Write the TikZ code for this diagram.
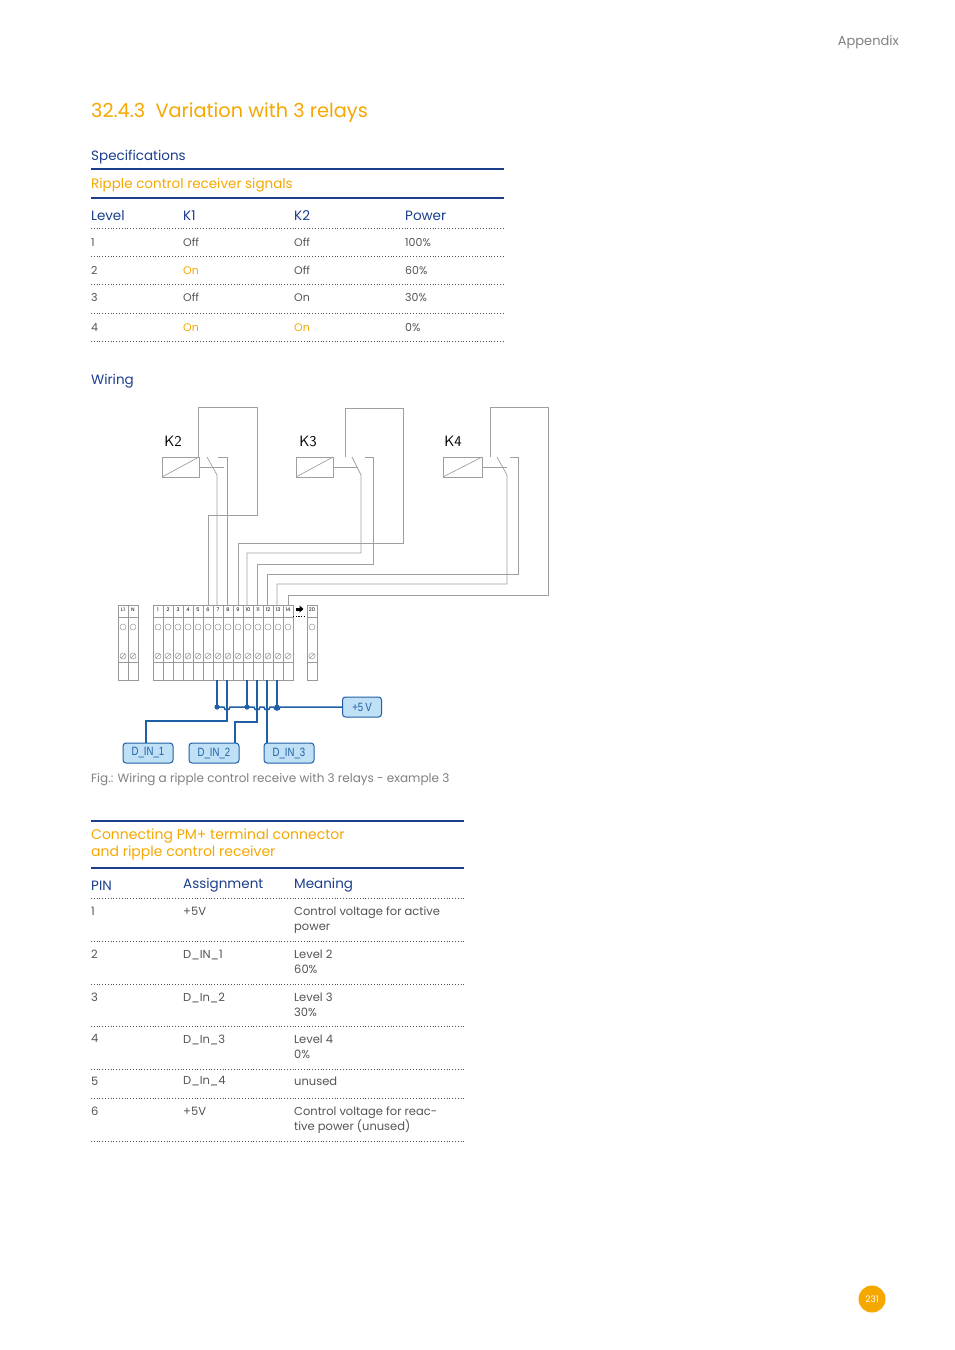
\documentclass[tikz,border=0pt]{standalone}
\usepackage{fontspec}
\setmainfont{Poppins}
\newfontfamily\boxfont{Liberation Sans}[FakeStretch=0.8]
\definecolor{dblue}{HTML}{1B3E8C}
\definecolor{orng}{HTML}{F5A800}
\definecolor{wblue}{HTML}{1F5FA6}
\definecolor{bfill}{HTML}{BFE0F5}
\definecolor{gtxt}{HTML}{555555}
\begin{document}
\begin{tikzpicture}[x=1pt,y=-1pt,
  txt/.style={anchor=west,inner sep=0pt,yshift=-1.5pt,font=\fontsize{11}{13}\selectfont,text=gtxt},
  otxt/.style={txt,text=orng},
  hdr/.style={anchor=west,inner sep=0pt,yshift=-1.5pt,font=\fontsize{13.5}{15}\selectfont,text=dblue},
  ohdr/.style={anchor=west,inner sep=0pt,font=\fontsize{14}{17}\selectfont,text=orng,align=left},
  thick line/.style={draw=dblue,line width=2.2pt},
  dotline/.style={draw=gtxt,line width=0.8pt,dash pattern=on 0.8pt off 2pt},
  wire/.style={draw=gray!75,line width=0.7pt},
  bw/.style={draw=wblue,line width=1.5pt},
  sig/.style={draw=wblue,fill=bfill,rounded corners=3pt,line width=1pt,minimum height=20pt,minimum width=50pt,inner sep=2pt,font=\boxfont\fontsize{12}{12}\selectfont,text=wblue},
  term/.style={draw=gray!80,line width=0.5pt},
  klab/.style={anchor=center,inner sep=0pt,font=\fontsize{15}{16}\selectfont\sffamily},
  tn/.style={font=\fontsize{5}{6}\selectfont,inner sep=0pt,text=black}]
\useasboundingbox (0,0) rectangle (954,1350);
\fill[white] (0,0) rectangle (954,1350);
\node[anchor=east,inner sep=0pt,yshift=-1.5pt,font=\fontsize{13}{15}\selectfont,text=gray] (app) at (899,41) {Appendix};
\node[anchor=west,inner sep=0pt,yshift=-1.5pt,font=\fontsize{19.3}{21}\selectfont,text=orng] (ttl) at (91,111) {32.4.3\ \ Variation with 3 relays};
\node[hdr] (spec) at (91,156) {Specifications};
\draw[thick line] (91,169) -- (504,169);
\node[otxt,font=\fontsize{13.5}{15}\selectfont] (rcs) at (91,184) {Ripple control receiver signals};
\draw[thick line] (91,198) -- (504,198);
\node[hdr] (h1) at (91,214) {Level};
\node[hdr] (h2) at (183,214) {K1};
\node[hdr] (h3) at (294,214) {K2};
\node[hdr] (h4) at (405,214) {Power};
\foreach \y in {228,256,284,313,341} \draw[dotline] (91,\y) -- (504,\y);
\node[txt] (r1a) at (91,241) {1}; \node[txt] (r1b) at (183,241) {Off}; \node[txt] (r1c) at (294,241) {Off}; \node[txt] (r1d) at (405,241) {100\%};
\node[txt] (r2a) at (91,269) {2}; \node[otxt] (r2b) at (183,269) {On}; \node[txt] (r2c) at (294,269) {Off}; \node[txt] (r2d) at (405,269) {60\%};
\node[txt] (r3a) at (91,296) {3}; \node[txt] (r3b) at (183,296) {Off}; \node[txt] (r3c) at (294,296) {On}; \node[txt] (r3d) at (405,296) {30\%};
\node[txt] (r4a) at (91,326) {4}; \node[otxt] (r4b) at (183,326) {On}; \node[otxt] (r4c) at (294,326) {On}; \node[txt] (r4d) at (405,326) {0\%};
\node[hdr] (wir) at (91,380) {Wiring};
% relays
\node[klab] (k2) at (173,441) {K2};
\node[klab] (k3) at (308,441) {K3};
\node[klab] (k4) at (453,441) {K4};
\foreach \a/\b in {162/199,296/333,443/482}{
  \draw[wire] (\a,457) rectangle (\b,477);
  \draw[wire] (\a,477) -- (\b,457);}
% K2
\draw[wire] (208,605) -- (208,515) -- (257,515) -- (257,407) -- (198,407) -- (198,457);
\draw[wire] (207,457) -- (217,475) -- (217,605);
\draw[wire] (199,467) -- (224,467);
\draw[wire] (218,457) -- (227,457) -- (227,605);
% K3
\draw[wire] (238,605) -- (238,543) -- (403,543) -- (403,408) -- (345,408) -- (345,457);
\draw[wire] (352,457) -- (361,475) -- (361,553) -- (247,553) -- (247,605);
\draw[wire] (333,467) -- (358,467);
\draw[wire] (365,457) -- (373,457) -- (373,564) -- (257,564) -- (257,605);
% K4
\draw[wire] (288,605) -- (288,595) -- (548,595) -- (548,407) -- (490,407) -- (490,457);
\draw[wire] (497,457) -- (507,475) -- (507,584) -- (277,584) -- (277,605);
\draw[wire] (482,467) -- (507,467);
\draw[wire] (510,457) -- (518,457) -- (518,574) -- (267,574) -- (267,605);
% terminal blocks
\foreach \x/\l in {118/L1,128/N}{
  \draw[term] (\x,605) rectangle ++(10,75);
  \node[tn] at (\x+5,610) {\l};
  \draw[term] (\x+5,627) circle (3);
  \draw[term] (\x+5,656) circle (3); \draw[term] (\x+3,658) -- (\x+7,654);}
\draw[term] (118,617) -- (138,617); \draw[term] (118,662) -- (138,662);
\foreach \i in {1,...,14}{
  \pgfmathsetmacro\x{153+10*(\i-1)}
  \draw[term] (\x,605) rectangle ++(10,75);
  \node[tn] at (\x+5,610) {\i};
  \draw[term] (\x+5,627) circle (3);
  \draw[term] (\x+5,656) circle (3); \draw[term] (\x+3,658) -- (\x+7,654);}
\draw[term] (153,617) -- (293,617); \draw[term] (153,662) -- (293,662);
\draw[term] (307,605) rectangle (317,680);
\node[tn] at (312,610) {20};
\draw[term] (312,627) circle (3);
\draw[term] (312,656) circle (3); \draw[term] (310,658) -- (314,654);
\draw[term] (307,617) -- (317,617); \draw[term] (307,662) -- (317,662);
\fill[black] (296,607.5) rectangle (299.5,610.5);
\fill[black] (299.5,605.5) -- (303.5,609) -- (299.5,612.5) -- cycle;
\draw[black,line width=1pt,dash pattern=on 1.2pt off 1.5pt] (293,616) -- (305,616);
% blue wiring
\node[sig,minimum width=39pt] (p5) at (362,707) {+5\,V};
\node[sig] (d1) at (148,753) {D\_IN\_1};
\node[sig] (d2) at (214,753) {D\_IN\_2};
\node[sig] (d3) at (289,753) {D\_IN\_3};
\draw[bw] (p5.west) -- (280,707) arc (0:180:3) -- (270,707) arc (0:180:3) -- (260,707) arc (0:180:3) -- (230,707) arc (0:180:3) -- (217,707);
\foreach \x in {217,247,277}{\draw[bw] (\x,680) -- (\x,707); \fill[wblue] (\x,707) circle (2.6);}
\draw[bw] (227,680) -- (227,721) -- (146,721) -- (146,743);
\draw[bw] (257,680) -- (257,722) -- (235,722) -- (235,743);
\draw[bw] (267,680) -- (267,743);
\node[txt,text=gray,font=\fontsize{12}{13}\selectfont] (cap) at (91,778) {Fig.: Wiring a ripple control receive with 3 relays - example 3};
% second table
\draw[thick line] (91,821) -- (464,821);
\node[ohdr,anchor=north west] (ct) at (91,829) {Connecting PM+ terminal connector\\and ripple control receiver};
\draw[thick line] (91,868) -- (464,868);
\node[hdr] (g1) at (91,884) {PIN};
\node[hdr] (g2) at (183,884) {Assignment};
\node[hdr] (g3) at (294,884) {Meaning};
\foreach \y in {898,941,984,1026,1069,1098,1141} \draw[dotline] (91,\y) -- (464,\y);
\tikzset{mt/.style={txt,yshift=0pt,anchor=north west,align=left,font=\fontsize{11.5}{15}\selectfont}}
\node[mt] (a1) at (91,905) {1}; \node[mt] (b1) at (183,905) {+5V}; \node[mt] (c1) at (294,905) {Control voltage for active\\power};
\node[mt] (a2) at (91,948) {2}; \node[mt] (b2) at (183,948) {D\_IN\_1}; \node[mt] (c2) at (294,948) {Level 2\\60\%};
\node[mt] (a3) at (91,991) {3}; \node[mt] (b3) at (183,991) {D\_In\_2}; \node[mt] (c3) at (294,991) {Level 3\\30\%};
\node[mt] (a4) at (91,1033) {4}; \node[mt] (b4) at (183,1033) {D\_In\_3}; \node[mt] (c4) at (294,1033) {Level 4\\0\%};
\node[mt] (a5) at (91,1075) {5}; \node[mt] (b5) at (183,1075) {D\_In\_4}; \node[mt] (c5) at (294,1075) {unused};
\node[mt] (a6) at (91,1105) {6}; \node[mt] (b6) at (183,1105) {+5V}; \node[mt] (c6) at (294,1105) {Control voltage for reac-\\tive power (unused)};
\node[circle,fill=orng,minimum size=27pt,inner sep=0pt,text=white,font=\fontsize{9}{10}\selectfont] (pg) at (872,1299) {231};
\end{tikzpicture}
\end{document}
